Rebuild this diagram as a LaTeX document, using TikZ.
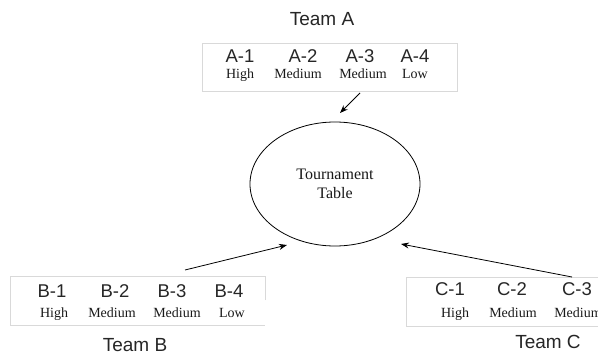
\documentclass[tikz,border=0pt]{standalone}
\usepackage{fontspec}
\setmainfont{Liberation Serif}
\newfontfamily\arialf{Liberation Sans}
\usetikzlibrary{shapes.geometric,arrows.meta}
\begin{document}
\begin{tikzpicture}[x=1pt,y=-1pt,
 team/.style={font=\arialf\fontsize{19}{21}\selectfont, text=black!85, inner sep=0, anchor=base},
 pid/.style={font=\arialf\fontsize{18.5}{20}\selectfont, text=black!85, inner sep=0, anchor=base},
 lvl/.style={font=\fontsize{14}{16}\selectfont, text=black!90, inner sep=0, anchor=base},
 panel/.style={draw=black!15, line width=0.8pt},
 arr/.style={-{Stealth[length=8pt,width=6pt]}, line width=0.8pt}]
\useasboundingbox (0,0) rectangle (598,356);
% Team A
\node[team] (tA) at (322,25) {Team A};
\draw[panel] (202,43) rectangle (457,91);
\node[pid] (a1) at (240,63) {A-1};
\node[pid] (a2) at (303,63) {A-2};
\node[pid] (a3) at (360,63) {A-3};
\node[pid] (a4) at (415,63) {A-4};
\node[lvl] (a1l) at (240,78) {High};
\node[lvl] (a2l) at (298,78) {Medium};
\node[lvl] (a3l) at (363,78) {Medium};
\node[lvl] (a4l) at (415,78) {Low};
% Tournament table
\node[draw, ellipse, line width=0.8pt, minimum width=170pt, minimum height=124pt,
      align=center, font=\fontsize{16}{19}\selectfont, text=black!90] (tt) at (335,184) {Tournament\\Table};
% Team B
\draw[panel] (265,300) -- (265,276) -- (10,276) -- (10,325) -- (265,325);
\node[pid] (b1) at (52,297) {B-1};
\node[pid] (b2) at (115,297) {B-2};
\node[pid] (b3) at (172,297) {B-3};
\node[pid] (b4) at (229,297) {B-4};
\node[lvl] (b1l) at (54,317) {High};
\node[lvl] (b2l) at (112,317) {Medium};
\node[lvl] (b3l) at (177,317) {Medium};
\node[lvl] (b4l) at (232,317) {Low};
\node[team] (tB) at (135,351) {Team B};
% Team C
\draw[panel] (610,277) -- (406,277) -- (406,326) -- (610,326);
\node[pid] (c1) at (450,295) {C-1};
\node[pid] (c2) at (512,295) {C-2};
\node[pid] (c3) at (577,295) {C-3};
\node[lvl] (c1l) at (455,317) {High};
\node[lvl] (c2l) at (513,317) {Medium};
\node[lvl] (c3l) at (578,317) {Medium};
\node[team] (tC) at (548,348) {Team C};
% arrows
\coordinate (aS) at (360,93);
\coordinate (aE) at (340,113);
\coordinate (bS) at (185,270);
\coordinate (bE) at (287,245);
\coordinate (cS) at (572,277);
\coordinate (cE) at (401,244);
\draw[arr] (aS) -- (aE);
\draw[arr] (bS) -- (bE);
\draw[arr] (cS) -- (cE);
\end{tikzpicture}
\end{document}
